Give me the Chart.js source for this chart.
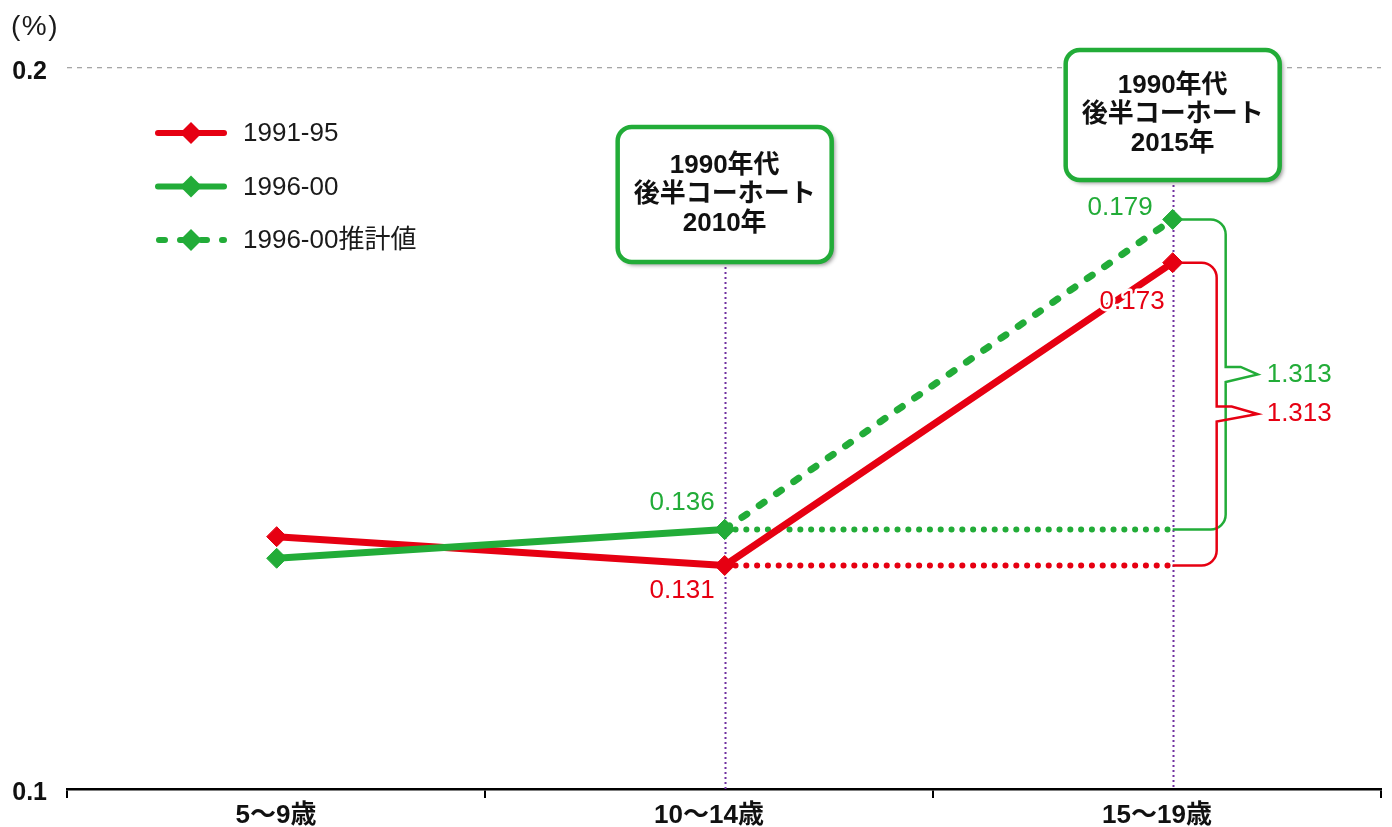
<!DOCTYPE html>
<html lang="ja">
<head>
<meta charset="utf-8">
<title>コーホート別 推移</title>
<script src="https://cdn.jsdelivr.net/npm/chart.js@4.4.1/dist/chart.umd.min.js"></script>
<style>
  html, body { margin: 0; padding: 0; background: #fff; }
  #wrap { width: 1392px; height: 827px; position: relative; }
</style>
</head>
<body>
<div id="wrap"><canvas id="chart" width="1392" height="827"></canvas></div>
<script>
// ---- data ----
const categories = ['5〜9歳', '10〜14歳', '15〜19歳'];
const rate1991 = [0.135, 0.131, 0.173];      // 1991-95
const rate1996 = [0.132, 0.136, null];       // 1996-00
const rate1996Est = [null, 0.136, 0.179];    // 1996-00推計値
const yTickValues = [0.1, 0.2];
const growth1996 = 1.313;
const growth1991 = 1.313;
const seriesNames = ['1991-95', '1996-00', '1996-00推計値'];
const yUnit = '(%)';
const cohortNotes = [
  { category: 1, lines: ['1990年代', '後半コーホート', '2010年'] },
  { category: 2, lines: ['1990年代', '後半コーホート', '2015年'] }
];

// ---- styling / layout ----
const FONT = "'Liberation Sans', 'Noto Sans CJK JP', sans-serif";
const RED = '#E60012';
const GREEN = '#22AC38';
const PURPLE = '#7030A0';
const X_MIN = 0.067, X_MAX = 3;     // category slots are one unit wide
const POINT_SHIFT = 0.535;          // marker position inside each slot
const NOTE_BOXES = [{ top: 127, height: 135 }, { top: 50, height: 130 }];
const NOTE_WIDTH = 214;

Chart.defaults.font.family = FONT;

const pts = arr => arr.map((v, i) => ({ x: i + POINT_SHIFT, y: v }));
const baseline = arr => [1, 2].map(i => ({ x: i + POINT_SHIFT, y: arr[1] }));

const lineStyle = (color, extra) => Object.assign({
  borderColor: color,
  backgroundColor: color,
  borderWidth: 7,
  borderJoinStyle: 'round',
  pointStyle: 'rectRot',
  pointRadius: 10,
  pointHoverRadius: 10,
  pointBorderWidth: 1,
  pointBackgroundColor: color,
  pointBorderColor: color,
  xAxisID: 'x',
  yAxisID: 'y',
  tension: 0,
  spanGaps: false
}, extra);

const datasets = [
  lineStyle(GREEN, { label: seriesNames[1], data: pts(rate1996) }),
  lineStyle(GREEN, { label: seriesNames[2], data: pts(rate1996Est), borderDash: [6, 15], borderCapStyle: 'round' }),
  lineStyle(RED, { label: seriesNames[0], data: pts(rate1991) }),
  lineStyle(GREEN, { label: 'base96', data: baseline(rate1996), borderWidth: 6, borderDash: [0.1, 10.7], borderCapStyle: 'round', pointRadius: 0 }),
  lineStyle(RED, { label: 'base91', data: baseline(rate1991), borderWidth: 6, borderDash: [0.1, 10.7], borderCapStyle: 'round', pointRadius: 0 })
];

// legend entries in drawing order: [dataset index]
const legendOrder = [2, 0, 1];

function drawDiamond(ctx, x, y, r, color) {
  ctx.beginPath();
  ctx.moveTo(x, y - r); ctx.lineTo(x + r, y); ctx.lineTo(x, y + r); ctx.lineTo(x - r, y);
  ctx.closePath();
  ctx.fillStyle = color; ctx.fill();
}

function drawBracket(ctx, x0, yTop, yBot, xv, xTip, color) {
  const r = 15, yMid = (yTop + yBot) / 2;
  ctx.save();
  ctx.strokeStyle = color; ctx.lineWidth = 2.5; ctx.lineJoin = 'miter';
  ctx.beginPath();
  ctx.moveTo(x0, yTop);
  ctx.lineTo(xv - r, yTop);
  ctx.arcTo(xv, yTop, xv, yTop + r, r);
  ctx.lineTo(xv, yMid - 7.5);
  ctx.lineTo(xv + 15, yMid - 7.5);
  ctx.lineTo(xTip, yMid);
  ctx.lineTo(xv, yMid + 7.5);
  ctx.lineTo(xv, yBot - r);
  ctx.arcTo(xv, yBot, xv - r, yBot, r);
  ctx.lineTo(x0, yBot);
  ctx.stroke();
  ctx.restore();
}

const overlay = {
  id: 'overlay',
  beforeDatasetsDraw(chart) {
    const { ctx, chartArea, scales: { x } } = chart;
    ctx.save();
    ctx.strokeStyle = PURPLE; ctx.lineWidth = 2; ctx.setLineDash([2, 3]);
    cohortNotes.forEach((n, k) => {
      const px = Math.round(x.getPixelForValue(n.category + POINT_SHIFT)) + 0.5;
      const b = NOTE_BOXES[k];
      ctx.beginPath();
      ctx.moveTo(px, b.top + b.height);
      ctx.lineTo(px, chartArea.bottom);
      ctx.stroke();
    });
    ctx.restore();
  },
  afterDatasetsDraw(chart) {
    const { ctx, scales: { x, y } } = chart;
    const xp1 = x.getPixelForValue(1 + POINT_SHIFT);
    const xp2 = x.getPixelForValue(2 + POINT_SHIFT);

    // growth brackets
    drawBracket(ctx, xp2, y.getPixelForValue(rate1996Est[2]), y.getPixelForValue(rate1996Est[1]), xp2 + 53, xp2 + 85, GREEN);
    drawBracket(ctx, xp2, y.getPixelForValue(rate1991[2]), y.getPixelForValue(rate1991[1]), xp2 + 44, xp2 + 85, RED);

    ctx.save();
    ctx.font = `26px ${FONT}`;
    ctx.textBaseline = 'middle';
    ctx.textAlign = 'left';
    ctx.fillStyle = GREEN;
    ctx.fillText(growth1996.toFixed(3), xp2 + 94, (y.getPixelForValue(rate1996Est[2]) + y.getPixelForValue(rate1996Est[1])) / 2);
    ctx.fillStyle = RED;
    ctx.fillText(growth1991.toFixed(3), xp2 + 94, (y.getPixelForValue(rate1991[2]) + y.getPixelForValue(rate1991[1])) / 2);

    // value labels
    ctx.textAlign = 'right';
    ctx.fillStyle = GREEN;
    ctx.fillText(rate1996[1].toFixed(3), xp1 - 10, y.getPixelForValue(rate1996[1]) - 27);
    ctx.fillText(rate1996Est[2].toFixed(3), xp2 - 20, y.getPixelForValue(rate1996Est[2]) - 12);
    ctx.fillStyle = RED;
    ctx.fillText(rate1991[1].toFixed(3), xp1 - 10, y.getPixelForValue(rate1991[1]) + 25);
    const t = rate1991[2].toFixed(3), ty = y.getPixelForValue(rate1991[2]) + 39;
    ctx.strokeStyle = '#fff'; ctx.lineWidth = 5; ctx.lineJoin = 'round';
    ctx.strokeText(t, xp2 - 8, ty);
    ctx.fillText(t, xp2 - 8, ty);
    ctx.restore();

    // cohort note boxes
    cohortNotes.forEach((n, k) => {
      const cx = x.getPixelForValue(n.category + POINT_SHIFT);
      const b = NOTE_BOXES[k];
      const left = cx - NOTE_WIDTH / 2;
      ctx.save();
      ctx.beginPath();
      ctx.roundRect(left, b.top, NOTE_WIDTH, b.height, 14);
      ctx.shadowColor = 'rgba(0,0,0,0.45)';
      ctx.shadowBlur = 4; ctx.shadowOffsetX = 3; ctx.shadowOffsetY = 3;
      ctx.fillStyle = '#fff';
      ctx.fill();
      ctx.shadowColor = 'transparent';
      ctx.lineWidth = 4.5; ctx.strokeStyle = GREEN;
      ctx.stroke();
      ctx.fillStyle = '#111';
      ctx.font = `bold 26px ${FONT}`;
      ctx.textAlign = 'center'; ctx.textBaseline = 'middle';
      const cy = b.top + b.height / 2;
      n.lines.forEach((line, i) => ctx.fillText(line, cx, cy + (i - 1) * 29));
      ctx.restore();
    });
  },
  afterDraw(chart) {
    const { ctx } = chart;
    ctx.save();
    // legend
    legendOrder.forEach((di, k) => {
      const ds = chart.data.datasets[di];
      const ly = 133 + k * 53.5;
      ctx.strokeStyle = ds.borderColor; ctx.lineWidth = 6; ctx.lineCap = 'round';
      ctx.setLineDash(ds.borderDash ? ds.borderDash : []);
      ctx.lineDashOffset = ds.borderDash ? -1 : 0;
      ctx.beginPath(); ctx.moveTo(158, ly); ctx.lineTo(224, ly); ctx.stroke();
      ctx.setLineDash([]);
      drawDiamond(ctx, 191, ly, 11, ds.borderColor);
      ctx.fillStyle = '#1a1a1a';
      ctx.font = `26px ${FONT}`;
      ctx.textAlign = 'left'; ctx.textBaseline = 'middle';
      ctx.fillText(ds.label, 243, ly + 1);
    });
    // unit label
    ctx.font = `28px ${FONT}`;
    ctx.letterSpacing = '1.5px';
    ctx.fillStyle = '#1a1a1a';
    ctx.textAlign = 'left'; ctx.textBaseline = 'middle';
    ctx.fillText(yUnit, 11, 27);
    ctx.restore();
  }
};

new Chart(document.getElementById('chart'), {
  type: 'line',
  data: { datasets },
  options: {
    responsive: false,
    devicePixelRatio: 1,
    animation: false,
    events: [],
    layout: { padding: { top: 68, right: 11, bottom: 0, left: 0 } },
    plugins: { legend: { display: false }, tooltip: { enabled: false } },
    scales: {
      x: {
        type: 'linear', position: 'bottom', weight: 0,
        min: X_MIN, max: X_MAX,
        afterBuildTicks: s => { s.ticks = [X_MIN, 1, 2, 3].map(v => ({ value: v })); },
        afterFit: s => { s.height = 9; },
        ticks: { display: false },
        grid: { drawOnChartArea: false, drawTicks: true, tickLength: 9, color: '#000', lineWidth: 2 },
        border: { display: true, color: '#000', width: 2.5 }
      },
      xCat: {
        type: 'linear', position: 'bottom', weight: 1,
        min: X_MIN, max: X_MAX,
        afterBuildTicks: s => {
          s.ticks = categories.map((c, i) => ({ value: i === 0 ? (X_MIN + 1) / 2 : i + 0.5 }));
        },
        afterFit: s => { s.height = 29; },
        ticks: {
          autoSkip: false, maxRotation: 0, minRotation: 0, padding: 2, color: '#111',
          font: { size: 26, weight: 'bold' },
          callback: (v, i) => categories[i]
        },
        grid: { display: false, drawTicks: false },
        border: { display: false }
      },
      y: {
        min: 0.1, max: 0.2,
        afterBuildTicks: s => { s.ticks = yTickValues.map(v => ({ value: v })); },
        afterFit: s => { s.width = 67; },
        ticks: {
          padding: 20, labelOffset: 4, color: '#111',
          font: { size: 25, weight: 'bold' },
          callback: v => v.toFixed(1)
        },
        grid: {
          drawTicks: false, lineWidth: 1.3,
          color: c => (c.tick && c.tick.value === 0.2) ? '#a6a6a6' : 'rgba(0,0,0,0)'
        },
        border: { display: false, dash: [5, 5] }
      }
    }
  },
  plugins: [overlay]
});
</script>
</body>
</html>
